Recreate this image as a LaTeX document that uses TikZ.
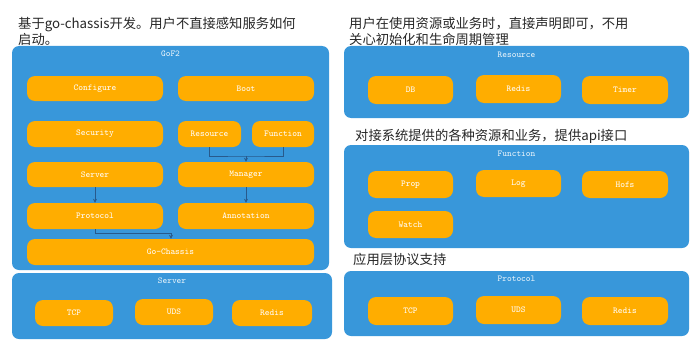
\documentclass[tikz,border=0pt]{standalone}
\usepackage{fontspec}
\newfontfamily\cjk{Noto Sans CJK SC}
\usetikzlibrary{arrows.meta}
\definecolor{panelblue}{RGB}{56,151,218}
\definecolor{boxorange}{RGB}{255,173,0}
\definecolor{linkblue}{RGB}{40,90,140}
\tikzset{
  panel/.style={fill=panelblue, draw=none, rounded corners=7pt, inner sep=0pt},
  ob/.style={fill=boxorange, draw=none, rounded corners=8pt, inner sep=0pt, text=white, font=\ttfamily\fontsize{9}{10}\selectfont},
  ptitle/.style={text=white!90!panelblue, font=\ttfamily\fontsize{9}{10}\selectfont, inner sep=0pt},
  note/.style={font=\cjk\fontsize{13.3}{16}\selectfont, align=left, anchor=west, inner sep=0pt, text=black!85},
  link/.style={draw=linkblue, line width=0.6pt},
  arr/.style={link, -{Stealth[length=4pt,width=4pt]}}
}
\begin{document}
\begin{tikzpicture}[x=1pt,y=-1pt]
\useasboundingbox (0,0) rectangle (692,353);
% left panels
\node[panel, minimum width=317pt, minimum height=224pt] (gof) at (170.5,158) {};
\node[ptitle] (goft) at (170.5,54) {GoF2};
\node[panel, minimum width=320pt, minimum height=66pt] (srvp) at (172,306) {};
\node[ptitle] (srvt) at (172,281) {Server};
% GoF2 boxes
\node[ob, minimum width=136pt, minimum height=25pt] (cfg) at (95,88.5) {Configure};
\node[ob, minimum width=136pt, minimum height=25pt] (boot) at (246,88.5) {Boot};
\node[ob, minimum width=136pt, minimum height=26pt] (sec) at (95,134) {Security};
\node[ob, minimum width=63pt, minimum height=26pt] (res) at (209.5,134) {Resource};
\node[ob, minimum width=62pt, minimum height=26pt] (fun) at (283,134) {Function};
\node[ob, minimum width=136pt, minimum height=25pt] (srv) at (95,174.5) {Server};
\node[ob, minimum width=136pt, minimum height=25pt] (mgr) at (246,174.5) {Manager};
\node[ob, minimum width=136pt, minimum height=26pt] (pro) at (95,216) {Protocol};
\node[ob, minimum width=136pt, minimum height=26pt] (ann) at (246,216) {Annotation};
\node[ob, minimum width=287pt, minimum height=26pt] (gc) at (170.5,252) {Go-Chassis};
% Server boxes
\node[ob, minimum width=78pt, minimum height=26pt] (ltcp) at (74,313) {TCP};
\node[ob, minimum width=78pt, minimum height=26pt] (luds) at (174,312) {UDS};
\node[ob, minimum width=80pt, minimum height=26pt] (lred) at (272,313) {Redis};
% connectors
\coordinate (rfmid) at (246,156);
\coordinate (pgj) at (171,233);
\draw[link] (res.south) |- (rfmid) -| (fun.south);
\draw[arr] (rfmid) -- (mgr.north -| rfmid);
\draw[arr] (srv.south) -- (pro.north);
\draw[arr] (mgr.south) -- (ann.north);
\draw[link] (pro.south) |- (pgj);
\draw[arr] (pgj) -- (pgj |- gc.north);
% right panels
\node[panel, minimum width=345pt, minimum height=72pt] (resp) at (516.5,82) {};
\node[ptitle] (rest) at (516.5,55) {Resource};
\node[ob, minimum width=85pt, minimum height=28pt] (db) at (410.5,90) {DB};
\node[ob, minimum width=85pt, minimum height=28pt] (rred) at (518.5,89) {Redis};
\node[ob, minimum width=86pt, minimum height=28pt] (tim) at (625,90) {Timer};
\node[panel, minimum width=345pt, minimum height=103pt] (funp) at (516.5,196.5) {};
\node[ptitle] (funt) at (516.5,154) {Function};
\node[ob, minimum width=85pt, minimum height=27pt] (prop) at (410.5,184.5) {Prop};
\node[ob, minimum width=85pt, minimum height=27pt] (log) at (518.5,183.5) {Log};
\node[ob, minimum width=86pt, minimum height=27pt] (hofs) at (625,184.5) {Hofs};
\node[ob, minimum width=85pt, minimum height=27pt] (wat) at (410.5,224.5) {Watch};
\node[panel, minimum width=345pt, minimum height=65pt] (prop2) at (516.5,303.5) {};
\node[ptitle] (prot) at (516.5,279) {Protocol};
\node[ob, minimum width=85pt, minimum height=28pt] (rtcp) at (410.5,311) {TCP};
\node[ob, minimum width=85pt, minimum height=28pt] (ruds) at (518.5,310) {UDS};
\node[ob, minimum width=86pt, minimum height=28pt] (rred2) at (625,311) {Redis};
% notes
\node[note] (n1) at (18,31) {基于go-chassis开发。用户不直接感知服务如何\\启动。};
\node[note] (n2) at (349,31) {用户在使用资源或业务时，直接声明即可，不用\\关心初始化和生命周期管理};
\node[note] (n3) at (355,136) {对接系统提供的各种资源和业务，提供api接口};
\node[note] (n4) at (353,259) {应用层协议支持};
\end{tikzpicture}
\end{document}
